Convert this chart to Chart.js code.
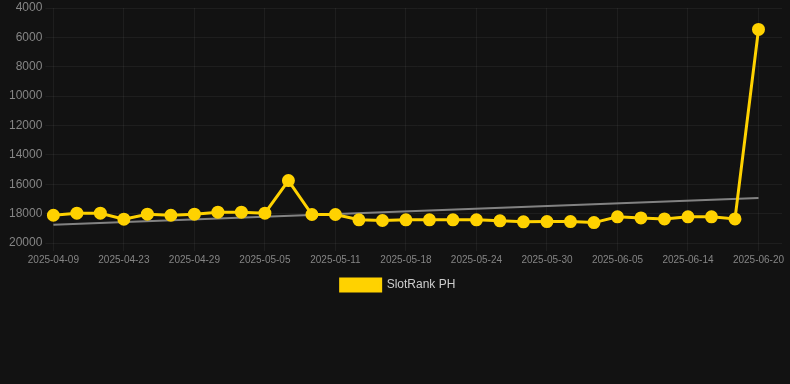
<!DOCTYPE html>
<html>
<head>
<meta charset="utf-8">
<script src="https://cdn.jsdelivr.net/npm/chart.js@4/dist/chart.umd.min.js"></script>
<style>
  html, body { margin: 0; padding: 0; background: #121212; overflow: hidden; }
  #wrap { width: 790px; height: 384px; position: relative; }
</style>
</head>
<body>
<div id="wrap"><canvas id="c"></canvas></div>
<script>
const labels = [
  "2025-04-09","2025-04-13","2025-04-17","2025-04-23","2025-04-25","2025-04-27",
  "2025-04-29","2025-05-01","2025-05-03","2025-05-05","2025-05-07","2025-05-09",
  "2025-05-11","2025-05-13","2025-05-16","2025-05-18","2025-05-20","2025-05-22",
  "2025-05-24","2025-05-26","2025-05-28","2025-05-30","2025-06-01","2025-06-03",
  "2025-06-05","2025-06-08","2025-06-11","2025-06-14","2025-06-16","2025-06-18",
  "2025-06-20","2025-06-21"
];
const rankValues = [
  18110, 17970, 17970, 18380, 18040, 18110, 18040, 17900, 17900, 17970,
  15750, 18060, 18060, 18420, 18470, 18420, 18420, 18420, 18420, 18490,
  18560, 18540, 18540, 18610, 18220, 18290, 18360, 18220, 18220, 18360,
  5460, null
];
const trendValues = [
  18760, null, null, null, null, null, null, null, null, null,
  null, null, null, null, null, null, null, null, null, null,
  null, null, null, null, null, null, null, null, null, null,
  16940, null
];
const yTicks = [4000, 6000, 8000, 10000, 12000, 14000, 16000, 18000, 20000];

Chart.defaults.font.family = "'Liberation Sans', Arial, sans-serif";

new Chart(document.getElementById('c'), {
  type: 'line',
  data: {
    labels: labels,
    datasets: [
      {
        label: 'SlotRank PH',
        data: rankValues,
        borderColor: '#FFD200',
        backgroundColor: '#FFD200',
        borderWidth: 3,
        pointRadius: 5,
        pointHoverRadius: 5,
        pointBackgroundColor: '#FFD200',
        pointBorderColor: '#FFD200',
        tension: 0,
        order: 1
      },
      {
        label: 'trend',
        data: trendValues,
        borderColor: 'rgba(150,150,150,0.85)',
        backgroundColor: 'rgba(150,150,150,0.85)',
        borderWidth: 2,
        pointRadius: 0,
        spanGaps: true,
        order: 2
      }
    ]
  },
  options: {
    responsive: true,
    maintainAspectRatio: false,
    animation: false,
    layout: { padding: { left: 6, right: 0, top: 0, bottom: 83 } },
    scales: {
      x: {
        offset: false,
        afterFit: (s) => { s.paddingRight = 0; },
        grid: { color: 'rgba(255,255,255,0.05)', tickLength: 8 },
        border: { display: false },
        ticks: {
          color: '#858585',
          font: { size: 10 },
          maxRotation: 0,
          autoSkip: true
        }
      },
      y: {
        reverse: true,
        min: 4000,
        max: 20000,
        afterFit: (s) => { s.paddingTop = 6; },
        afterBuildTicks: (axis) => { axis.ticks = yTicks.map(v => ({ value: v })); },
        grid: { color: 'rgba(255,255,255,0.05)', tickLength: 8 },
        border: { display: false },
        ticks: {
          color: '#858585',
          font: { size: 12 },
          callback: (v) => String(v)
        }
      }
    },
    plugins: {
      legend: {
        position: 'bottom',
        labels: {
          color: '#cccccc',
          font: { size: 12 },
          boxWidth: 40,
          boxHeight: 12,
          filter: (item) => item.text !== 'trend'
        }
      },
      tooltip: { enabled: false }
    }
  }
});
</script>
</body>
</html>
